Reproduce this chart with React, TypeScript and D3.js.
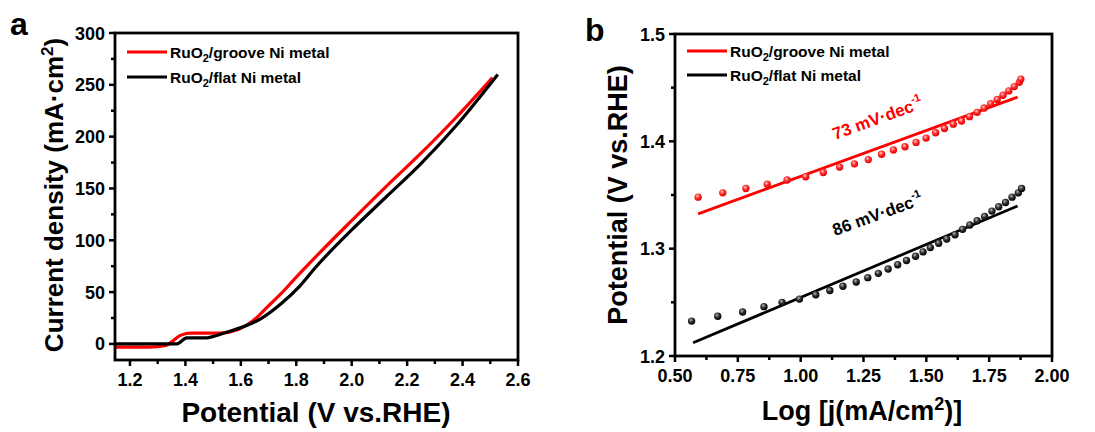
import React from "react";
import * as d3 from "d3";

// Panel a: LSV curves
const aPotRed = [1.146, 1.2, 1.27, 1.33, 1.355, 1.38, 1.418, 1.47, 1.52, 1.595, 1.645, 1.695, 1.745, 1.795, 1.87, 2.0, 2.125, 2.25, 2.375, 2.508];
const aCurRed = [-3, -3, -3, -1.5, 3, 8, 10.5, 10.5, 10.5, 14.5, 22.5, 35.5, 48.5, 63, 84, 119, 152, 184, 218, 257];
const aPotBlack = [1.146, 1.2, 1.27, 1.368, 1.405, 1.468, 1.545, 1.62, 1.67, 1.745, 1.81, 1.87, 2.0, 2.125, 2.25, 2.375, 2.527];
const aCurBlack = [0, 0, 0, 0, 5.8, 5.8, 11, 17.7, 24, 38.7, 55, 74, 110, 142, 174, 210, 260];
const aXTicks = [1.2, 1.4, 1.6, 1.8, 2.0, 2.2, 2.4, 2.6];
const aYTicks = [0, 50, 100, 150, 200, 250, 300];

// Panel b: Tafel plots
const bLogRed = [0.592, 0.69, 0.782, 0.867, 0.946, 1.02, 1.09, 1.155, 1.214, 1.269, 1.322, 1.369, 1.415, 1.459, 1.499, 1.537, 1.572, 1.607, 1.64, 1.672, 1.702, 1.73, 1.756, 1.782, 1.805, 1.828, 1.85, 1.87, 1.876];
const bPotRed = [1.348, 1.352, 1.356, 1.36, 1.364, 1.367, 1.371, 1.376, 1.379, 1.383, 1.388, 1.392, 1.395, 1.399, 1.403, 1.408, 1.412, 1.416, 1.419, 1.423, 1.427, 1.431, 1.435, 1.439, 1.443, 1.447, 1.451, 1.455, 1.458];
const bLogBlack = [0.566, 0.67, 0.769, 0.854, 0.926, 0.995, 1.06, 1.116, 1.168, 1.221, 1.267, 1.309, 1.348, 1.386, 1.421, 1.457, 1.487, 1.516, 1.549, 1.581, 1.614, 1.644, 1.673, 1.702, 1.732, 1.761, 1.788, 1.815, 1.841, 1.866, 1.879];
const bPotBlack = [1.2325, 1.237, 1.241, 1.246, 1.25, 1.253, 1.257, 1.261, 1.265, 1.269, 1.273, 1.277, 1.281, 1.285, 1.289, 1.293, 1.297, 1.301, 1.305, 1.309, 1.313, 1.318, 1.322, 1.326, 1.33, 1.335, 1.339, 1.343, 1.348, 1.352, 1.356];
const bFitRedX = [0.592, 1.863];
const bFitRedY = [1.3324, 1.4412];
const bFitBlackX = [0.572, 1.863];
const bFitBlackY = [1.2123, 1.3398];
const bXTicks = [0.5, 0.75, 1.0, 1.25, 1.5, 1.75, 2.0];
const bYTicks = [1.2, 1.3, 1.4, 1.5];

const legendLabels = ["groove Ni metal", "flat Ni metal"];
const slopeLabels = ["73 mV·dec", "86 mV·dec"];

const FONT = "Arial, 'Liberation Sans', sans-serif";
const RED = "#ff0000";
const BLACK = "#000000";

type Frame = { x0: number; x1: number; y0: number; y1: number };

function Axes({ fr, xs, ys, xTicks, yTicks, xMinor, yMinor, xFmt, yFmt }: any) {
  return (
    <g fontFamily={FONT} fontWeight="bold" fontSize={18}>
      {xTicks.map((t: number) => (
        <g key={"xt" + t}>
          <line x1={xs(t)} x2={xs(t)} y1={fr.y1} y2={fr.y1 + 6} stroke="#000" strokeWidth={2.5} />
          <text x={xs(t)} y={fr.y1 + 26} textAnchor="middle">{xFmt(t)}</text>
        </g>
      ))}
      {xMinor.map((t: number) => (
        <line key={"xm" + t} x1={xs(t)} x2={xs(t)} y1={fr.y1} y2={fr.y1 + 4} stroke="#000" strokeWidth={2.5} />
      ))}
      {yTicks.map((t: number) => (
        <g key={"yt" + t}>
          <line x1={fr.x0 - 6} x2={fr.x0} y1={ys(t)} y2={ys(t)} stroke="#000" strokeWidth={2.5} />
          <text x={fr.x0 - 10} y={ys(t) + 6.5} textAnchor="end">{yFmt(t)}</text>
        </g>
      ))}
      {yMinor.map((t: number) => (
        <line key={"ym" + t} x1={fr.x0 - 4} x2={fr.x0} y1={ys(t)} y2={ys(t)} stroke="#000" strokeWidth={2.5} />
      ))}
      <rect x={fr.x0} y={fr.y0} width={fr.x1 - fr.x0} height={fr.y1 - fr.y0} fill="none" stroke="#000" strokeWidth={2.8} />
    </g>
  );
}

function Legend({ x0, x1, ys }: { x0: number; x1: number; ys: number[] }) {
  const cols = [RED, BLACK];
  return (
    <g fontFamily={FONT} fontWeight="bold" fontSize={15.5}>
      {legendLabels.map((l, i) => (
        <g key={l}>
          <line x1={x0} x2={x1} y1={ys[i]} y2={ys[i]} stroke={cols[i]} strokeWidth={3} />
          <text x={x1 + 3} y={ys[i] + 5.5}>
            RuO<tspan fontSize={11} dy={4}>2</tspan>
            <tspan dy={-4}>/{l}</tspan>
          </text>
        </g>
      ))}
    </g>
  );
}

export default function App() {
  // Panel a
  const fa: Frame = { x0: 115, x1: 518, y0: 33, y1: 360 };
  const xa = d3.scaleLinear().domain([1.146, 2.6]).range([fa.x0, fa.x1]);
  const ya = d3.scaleLinear().domain([-15.5, 300]).range([fa.y1, fa.y0]);
  const lineA = d3.line<[number, number]>().x((d) => xa(d[0])).y((d) => ya(d[1])).curve(d3.curveMonotoneX);
  const redA = lineA(aPotRed.map((p, i) => [p, aCurRed[i]]) as [number, number][]) || "";
  const blackA = lineA(aPotBlack.map((p, i) => [p, aCurBlack[i]]) as [number, number][]) || "";

  // Panel b
  const fb: Frame = { x0: 675, x1: 1052, y0: 34, y1: 356 };
  const xb = d3.scaleLinear().domain([0.5, 2.0]).range([fb.x0, fb.x1]);
  const yb = d3.scaleLinear().domain([1.2, 1.5]).range([fb.y1, fb.y0]);
  const lineB = d3.line<[number, number]>().x((d) => xb(d[0])).y((d) => yb(d[1]));
  const fitRed = lineB(bFitRedX.map((x, i) => [x, bFitRedY[i]]) as [number, number][]) || "";
  const fitBlack = lineB(bFitBlackX.map((x, i) => [x, bFitBlackY[i]]) as [number, number][]) || "";

  const aXMinor = d3.range(1.3, 2.6, 0.2);
  const aYMinor = d3.range(25, 300, 50);
  const bXMinor = d3.range(0.625, 2.0, 0.25);
  const bYMinor = [1.25, 1.35, 1.45];

  return (
    <svg width={1095} height={432} style={{ position: "absolute", left: 0, top: 0, background: "#fff" }}>
      <defs>
        <radialGradient id="gRed" cx="40%" cy="35%" r="65%">
          <stop offset="0%" stopColor="#ffd0d0" />
          <stop offset="45%" stopColor="#ff3030" />
          <stop offset="100%" stopColor="#e00000" />
        </radialGradient>
        <radialGradient id="gBlack" cx="40%" cy="35%" r="65%">
          <stop offset="0%" stopColor="#bbbbbb" />
          <stop offset="45%" stopColor="#333333" />
          <stop offset="100%" stopColor="#000000" />
        </radialGradient>
        <clipPath id="clipA">
          <rect x={fa.x0} y={fa.y0} width={fa.x1 - fa.x0} height={fa.y1 - fa.y0} />
        </clipPath>
      </defs>

      {/* Panel a */}
      <text x={10} y={35} fontFamily={FONT} fontWeight="bold" fontSize={32}>a</text>
      <g clipPath="url(#clipA)">
        <path d={redA} fill="none" stroke={RED} strokeWidth={3.2} />
        <path d={blackA} fill="none" stroke={BLACK} strokeWidth={3.2} />
      </g>
      <Axes fr={fa} xs={xa} ys={ya} xTicks={aXTicks} yTicks={aYTicks} xMinor={aXMinor} yMinor={aYMinor}
        xFmt={(t: number) => t.toFixed(1)} yFmt={(t: number) => String(t)} />
      <Legend x0={127} x1={167} ys={[52, 77]} />
      <text x={316} y={422} textAnchor="middle" fontFamily={FONT} fontWeight="bold" fontSize={28}>Potential (V vs.RHE)</text>
      <text transform="translate(63,195) rotate(-90)" textAnchor="middle" fontFamily={FONT} fontWeight="bold" fontSize={26}>
        Current density (mA·cm<tspan fontSize={17} dy={-10}>2</tspan><tspan dy={10}>)</tspan>
      </text>

      {/* Panel b */}
      <text x={585} y={41} fontFamily={FONT} fontWeight="bold" fontSize={32}>b</text>
      <path d={fitRed} fill="none" stroke={RED} strokeWidth={2.8} />
      <path d={fitBlack} fill="none" stroke={BLACK} strokeWidth={2.8} />
      {bLogRed.map((x, i) => (
        <circle key={"r" + i} cx={xb(x)} cy={yb(bPotRed[i])} r={3.7} fill="url(#gRed)" />
      ))}
      {bLogBlack.map((x, i) => (
        <circle key={"k" + i} cx={xb(x)} cy={yb(bPotBlack[i])} r={3.7} fill="url(#gBlack)" />
      ))}
      <Axes fr={fb} xs={xb} ys={yb} xTicks={bXTicks} yTicks={bYTicks} xMinor={bXMinor} yMinor={bYMinor}
        xFmt={(t: number) => t.toFixed(2)} yFmt={(t: number) => t.toFixed(1)} />
      <Legend x0={687} x1={727} ys={[51, 75]} />
      <text transform="translate(835,140) rotate(-20)" fontFamily={FONT} fontWeight="bold" fontSize={17} fill={RED}>
        {slopeLabels[0]}<tspan fontSize={11} dy={-8}>-1</tspan>
      </text>
      <text transform="translate(835,236) rotate(-20)" fontFamily={FONT} fontWeight="bold" fontSize={17} fill={BLACK}>
        {slopeLabels[1]}<tspan fontSize={11} dy={-8}>-1</tspan>
      </text>
      <text x={862} y={420} textAnchor="middle" fontFamily={FONT} fontWeight="bold" fontSize={27}>
        Log [j(mA/cm<tspan fontSize={18} dy={-10}>2</tspan><tspan dy={10}>)]</tspan>
      </text>
      <text transform="translate(627,195) rotate(-90)" textAnchor="middle" fontFamily={FONT} fontWeight="bold" fontSize={27}>
        Potential (V vs.RHE)
      </text>
    </svg>
  );
}
